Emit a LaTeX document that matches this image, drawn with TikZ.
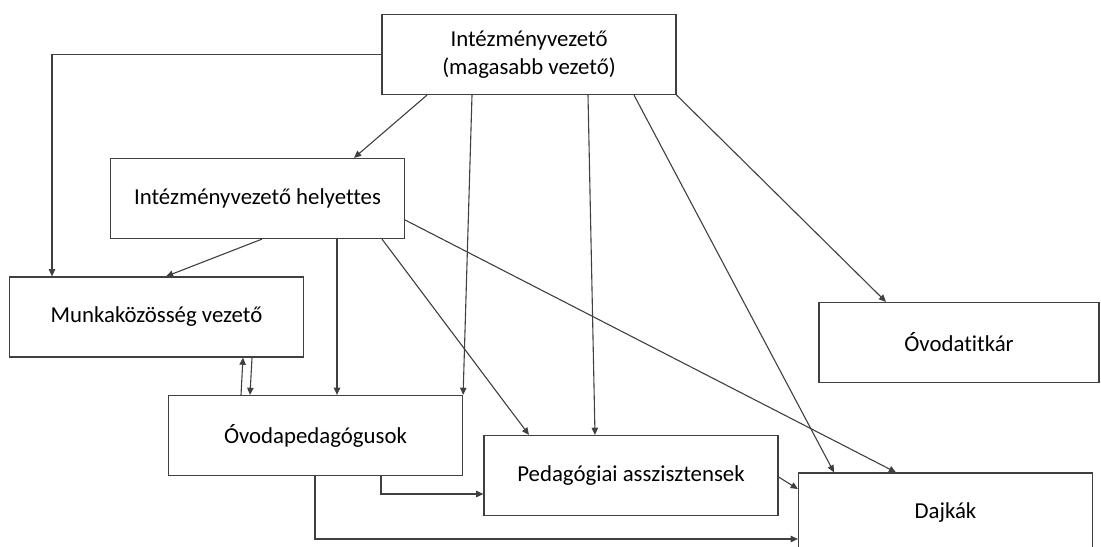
\documentclass[tikz,border=0pt]{standalone}
\usepackage{fontspec}
\setmainfont{Carlito}[Ligatures=NoCommon]
\usetikzlibrary{arrows.meta}
\tikzset{
  box/.style={draw=black!75, line width=0.6pt, minimum width=147pt, minimum height=40pt,
    inner sep=0pt, align=center, font=\fontsize{11.4}{14}\selectfont},
  arr/.style={draw=black!75, line width=0.55pt, -{Triangle[length=3.6pt,width=3.2pt]}}
}
\begin{document}
\begin{tikzpicture}[x=0.5pt, y=-0.5pt]
  \useasboundingbox (0,0) rectangle (1101,546);
  % Boxes
  \node[box] (top) at (529,54.5) {Intézményvezető\\(magasabb vezető)};
  \node[box] (help) at (257.5,198.5) {Intézményvezető helyettes};
  \node[box] (munka) at (156.5,317) {Munkaközösség vezető};
  \node[box] (ovoda) at (315.5,435.5) {Óvodapedagógusok};
  \node[box] (ped) at (631,475.5) {Pedagógiai asszisztensek};
  \node[box, minimum width=140pt] (titkar) at (959,342.5) {Óvodatitkár};
  \node[box] (dajka) at (945.5,513) {Dajkák};
  % From the head
  \draw[arr] (top.west) -| (munka.north -| 52,0);
  \draw[arr] (top.south -| 427,0) -- (help.north -| 354,0);
  \draw[arr] (top.south -| 472,0) -- (ovoda.north east);
  \draw[arr] (top.south -| 588,0) -- (ped.north -| 595,0);
  \draw[arr] (top.south -| 634,0) -- (dajka.north -| 834,0);
  \draw[arr] (top.south east) -- (titkar.north -| 886,0);
  % From the deputy
  \draw[arr] (help.south -| 262,0) -- (munka.north -| 166,0);
  \draw[arr] (help.south -| 337,0) -- (ovoda.north -| 337,0);
  \draw[arr] (help.south -| 382,0) -- (ped.north -| 529,0);
  \draw[arr] (help.east |- 0,220) -- (dajka.north -| 896,0);
  % Between the groups
  \draw[arr] (ovoda.north -| 241,0) -- (munka.south -| 243,0);
  \draw[arr] (munka.south -| 252,0) -- (ovoda.north -| 250,0);
  \draw[arr] (ovoda.south -| 381,0) |- (ped.west |- 0,494);
  \draw[arr] (ovoda.south -| 315,0) |- (dajka.west |- 0,539);
  \draw[arr] (ped.east |- 0,477) -- (dajka.west |- 0,489);
\end{tikzpicture}
\end{document}
